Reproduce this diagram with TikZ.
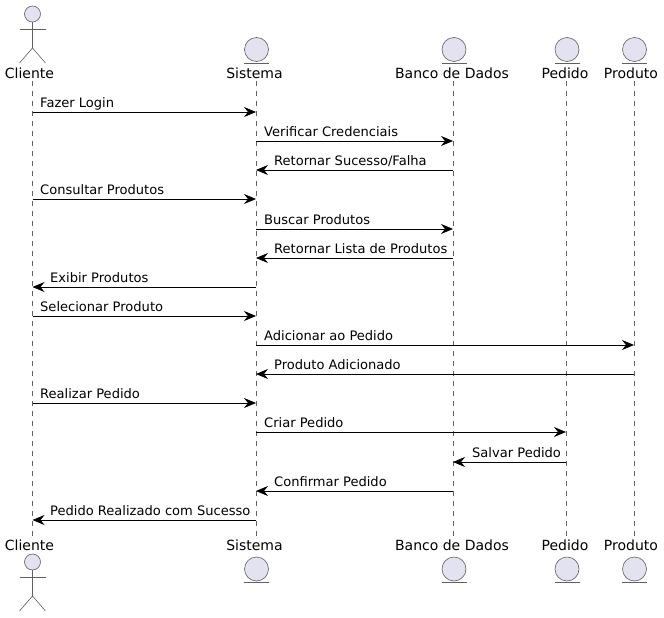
\documentclass[tikz,border=0pt]{standalone}
\usepackage{fontspec}
\setmainfont{DejaVu Sans}
\usetikzlibrary{arrows.meta}
\definecolor{umlfill}{HTML}{E2E2F0}
\definecolor{umlline}{HTML}{606060}

\begin{document}
\begin{tikzpicture}[
		x=1pt,y=-1pt,
		life/.style={
			draw=umlline,
			line width=0.6pt,
			dash pattern=on 5pt off 5pt
		},
		msg/.style={
			draw=black,
			line width=0.75pt,
			-{Stealth[length=12pt,width=10pt,inset=4pt]}
		},
		msgtext/.style={
			anchor=base west,
			inner sep=0pt,
			font=\fontsize{13.05}{15}\selectfont
		},
		who/.style={
			anchor=base,
			inner sep=0pt,
			font=\fontsize{14}{16}\selectfont
		},
		head/.style={
			draw=umlline,
			fill=umlfill,
			circle,
			inner sep=0pt,
			line width=0.6pt,
			minimum size=16pt
		},
		ball/.style={
			head,
			minimum size=24pt
		},
		limb/.style={
			draw=umlline,
			line width=0.6pt
		}
		]
		\useasboundingbox (0,0) rectangle (664,618);
		
		% Points on the lifelines
		\foreach \ai/\xx in {cli/32.5,sis/256,ban/453,ped/566,pro/634}
		{
			\coordinate (\ai-top) at (\xx,81);
			\coordinate (\ai-bot) at (\xx,537);
			\foreach \yy in {112,141,170,199,229,258,287,316,345,374,403,432,462,491,520}
			\coordinate (\ai-\yy) at (\xx,\yy);
			\draw[life] (\ai-top) -- (\ai-bot);
		}
		
		% Names
		\foreach \ai/\xx/\name in {cli/29.5/Cliente,sis/254.5/Sistema,ban/452/Banco de Dados,ped/565/Pedido,pro/631/Produto}
		{
			\node[who] (\ai-name-top) at (\xx,78) {\name};
			\node[who] (\ai-name-bot) at (\xx,550) {\name};
		}
		
		% Actor
		\foreach \ai/\yy in {top/0,bot/548}
		{
			\node[head] (cli-head-\ai) at (32.5,14+\yy) {};
			\coordinate (cli-hip-\ai) at (32.5,48+\yy);
			\coordinate (cli-arml-\ai) at (19.5,29+\yy);
			\coordinate (cli-armr-\ai) at (45.5,29+\yy);
			\coordinate (cli-legl-\ai) at (19.5,63+\yy);
			\coordinate (cli-legr-\ai) at (45.5,63+\yy);
			\draw[limb] (cli-head-\ai) -- (cli-hip-\ai);
			\draw[limb] (cli-arml-\ai) -- (cli-armr-\ai);
			\draw[limb] (cli-legl-\ai) -- (cli-hip-\ai) -- (cli-legr-\ai);
		}
		
		% Entities
		\foreach \ai/\xx in {sis/256.5,ban/454,ped/567,pro/634.5}
		{\foreach \bi/\yy in {top/49.5,bot/569}
			{
				\node[ball] (\ai-ball-\bi) at (\xx,\yy) {};
				\coordinate (\ai-subl-\bi) at (\xx-12.5,\yy+13.5);
				\coordinate (\ai-subr-\bi) at (\xx+12.5,\yy+13.5);
				\draw[limb] (\ai-subl-\bi) -- (\ai-subr-\bi);
			}
		}
		
		% Messages to the right
		\foreach \ai/\aii/\yy/\xx/\txt in {
			cli/sis/112/40/Fazer Login,
			sis/ban/141/264/Verificar Credenciais,
			cli/sis/199/40/Consultar Produtos,
			sis/ban/229/264/Buscar Produtos,
			cli/sis/316/40/Selecionar Produto,
			sis/pro/345/264/Adicionar ao Pedido,
			cli/sis/403/40/Realizar Pedido,
			sis/ped/432/264/Criar Pedido}
		{
			\draw[msg] (\ai-\yy) -- (\aii-\yy);
			\node[msgtext] (label-\yy) at (\xx,\yy-5) {\txt};
		}
		
		% Messages to the left
		\foreach \ai/\aii/\yy/\xx/\txt in {
			ban/sis/170/274/{Retornar Sucesso/Falha},
			ban/sis/258/274/Retornar Lista de Produtos,
			sis/cli/287/50/Exibir Produtos,
			pro/sis/374/274/Produto Adicionado,
			ped/ban/462/472/Salvar Pedido,
			ban/sis/491/274/Confirmar Pedido,
			sis/cli/520/50/Pedido Realizado com Sucesso}
		{
			\draw[msg] (\ai-\yy) -- (\aii-\yy);
			\node[msgtext] (label-\yy) at (\xx,\yy-5) {\txt};
		}
		
		\end{tikzpicture}
\end{document}
